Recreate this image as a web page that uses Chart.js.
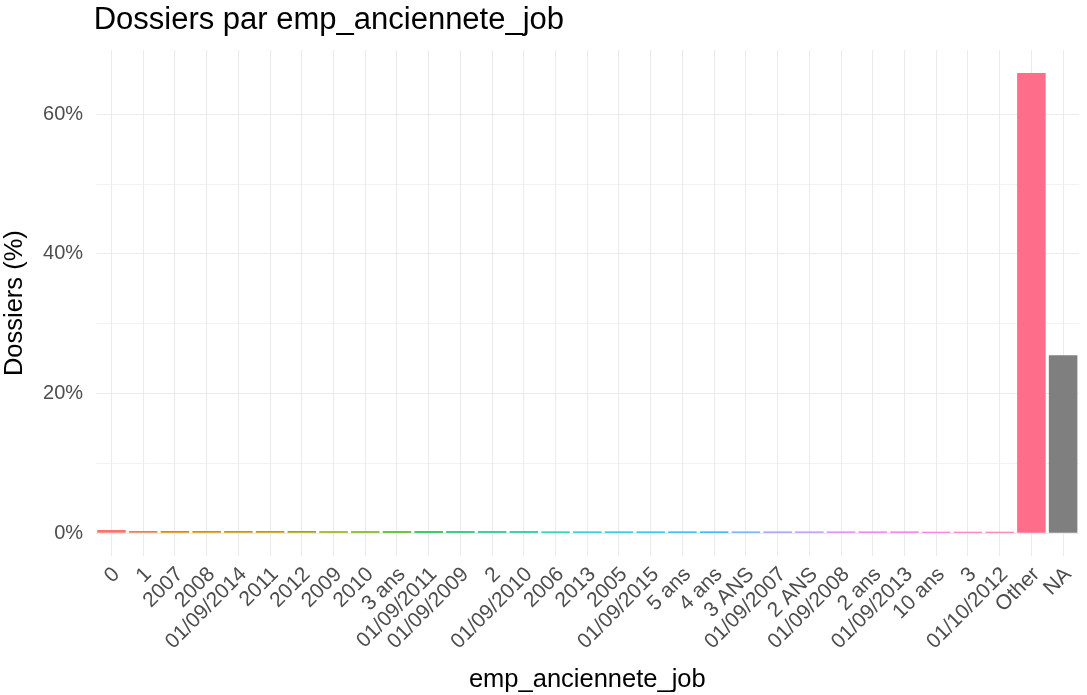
<!DOCTYPE html>
<html>
<head>
<meta charset="utf-8">
<script src="https://cdn.jsdelivr.net/npm/chart.js@4/dist/chart.umd.min.js"></script>
<style>
  body { margin: 0; background: #fff; }
  #wrap { width: 1087px; height: 695px; }
</style>
</head>
<body>
<div id="wrap"><canvas id="ancienneteChart"></canvas></div>
<script>
// categories in plotted order (sorted by frequency, then Other / NA)
const categories = ['0', '1', '2007', '2008', '01/09/2014', '2011', '2012', '2009', '2010', '3 ans',
  '01/09/2011', '01/09/2009', '2', '01/09/2010', '2006', '2013', '2005', '01/09/2015', '5 ans', '4 ans',
  '3 ANS', '01/09/2007', '2 ANS', '01/09/2008', '2 ans', '01/09/2013', '10 ans', '3', '01/10/2012',
  'Other', 'NA'];

// share of dossiers, in %
const pctDossiers = [0.45, 0.33, 0.32, 0.31, 0.31, 0.30, 0.30, 0.29, 0.29, 0.28,
  0.28, 0.27, 0.27, 0.27, 0.26, 0.26, 0.26, 0.25, 0.25, 0.25,
  0.24, 0.24, 0.24, 0.23, 0.23, 0.23, 0.22, 0.22, 0.21,
  65.9, 25.5];

const yTickValues = [0, 10, 20, 30, 40, 50, 60];

const chartTitle = 'Dossiers par emp_anciennete_job';
const xTitle = 'emp_anciennete_job';
const yTitle = 'Dossiers (%)';

const fontFamily = '"Liberation Sans", Arial, sans-serif';

// palette ggplot par défaut (hcl, l=65, c=100)
function hcl(h, c, l) {
  const rad = h * Math.PI / 180;
  const u = c * Math.cos(rad), v = c * Math.sin(rad);
  const Xn = 95.047, Yn = 100, Zn = 108.883;
  const den = Xn + 15 * Yn + 3 * Zn;
  const un = 4 * Xn / den, vn = 9 * Yn / den;
  const Y = Yn * Math.pow((l + 16) / 116, 3);
  const up = u / (13 * l) + un, vp = v / (13 * l) + vn;
  const X = Y * 9 * up / (4 * vp);
  const Z = Y * (12 - 3 * up - 20 * vp) / (4 * vp);
  const x = X / 100, y = Y / 100, z = Z / 100;
  const r = 3.240479 * x - 1.537150 * y - 0.498535 * z;
  const g = -0.969256 * x + 1.875992 * y + 0.041556 * z;
  const b = 0.055648 * x - 0.204043 * y + 1.057311 * z;
  const gam = t => t <= 0.0031308 ? 12.92 * t : 1.055 * Math.pow(t, 1 / 2.4) - 0.055;
  const to = t => Math.round(255 * Math.min(1, Math.max(0, gam(t))));
  return 'rgb(' + to(r) + ',' + to(g) + ',' + to(b) + ')';
}

const nHues = categories.length - 1;
const barColors = categories.map((cat, i) => {
  if (cat === 'NA') return '#7F7F7F';
  return hcl(15 + i * 360 / nHues, 100, 65);
});

// titre aligné sur le panneau, comme ggplot
const panelTitle = {
  id: 'panelTitle',
  afterDraw(chart) {
    const ctx = chart.ctx;
    ctx.save();
    ctx.font = '31px ' + fontFamily;
    ctx.fillStyle = '#000';
    ctx.textBaseline = 'alphabetic';
    ctx.fillText(chartTitle, chart.chartArea.left - 2, 29);
    ctx.restore();
  }
};

const ctx = document.getElementById('ancienneteChart');

new Chart(ctx, {
  type: 'bar',
  data: {
    labels: categories,
    datasets: [{
      data: pctDossiers,
      backgroundColor: barColors,
      borderWidth: 0,
      categoryPercentage: 1,
      barPercentage: 0.9
    }]
  },
  options: {
    responsive: true,
    maintainAspectRatio: false,
    animation: false,
    layout: { padding: { top: 50, right: 4, left: 0, bottom: 0 } },
    plugins: {
      legend: { display: false },
      tooltip: { enabled: false }
    },
    scales: {
      x: {
        offset: true,
        grid: { offset: false, color: '#EBEBEB', lineWidth: 1.1, drawTicks: false },
        border: { display: false },
        ticks: {
          autoSkip: false,
          maxRotation: 45,
          minRotation: 45,
          padding: 6,
          labelOffset: 5,
          color: '#4D4D4D',
          font: { family: fontFamily, size: 21 }
        },
        title: {
          display: true,
          text: xTitle,
          color: '#000',
          padding: { top: 4, bottom: 0 },
          font: { family: fontFamily, size: 25.5 }
        }
      },
      y: {
        min: -3.3,
        max: 69.2,
        afterBuildTicks: scale => {
          scale.ticks = yTickValues.map(v => ({ value: v }));
        },
        grid: {
          color: '#EBEBEB',
          lineWidth: c => (c.tick && c.tick.value % 20 === 0) ? 1.1 : 0.6,
          drawTicks: false
        },
        border: { display: false },
        ticks: {
          padding: 12.5,
          color: '#4D4D4D',
          font: { family: fontFamily, size: 20 },
          callback: v => (v % 20 === 0 ? v + '%' : '')
        },
        title: {
          display: true,
          text: yTitle,
          color: '#000',
          padding: { top: 0, bottom: 0 },
          font: { family: fontFamily, size: 25.5 }
        }
      }
    }
  },
  plugins: [panelTitle]
});
</script>
</body>
</html>
